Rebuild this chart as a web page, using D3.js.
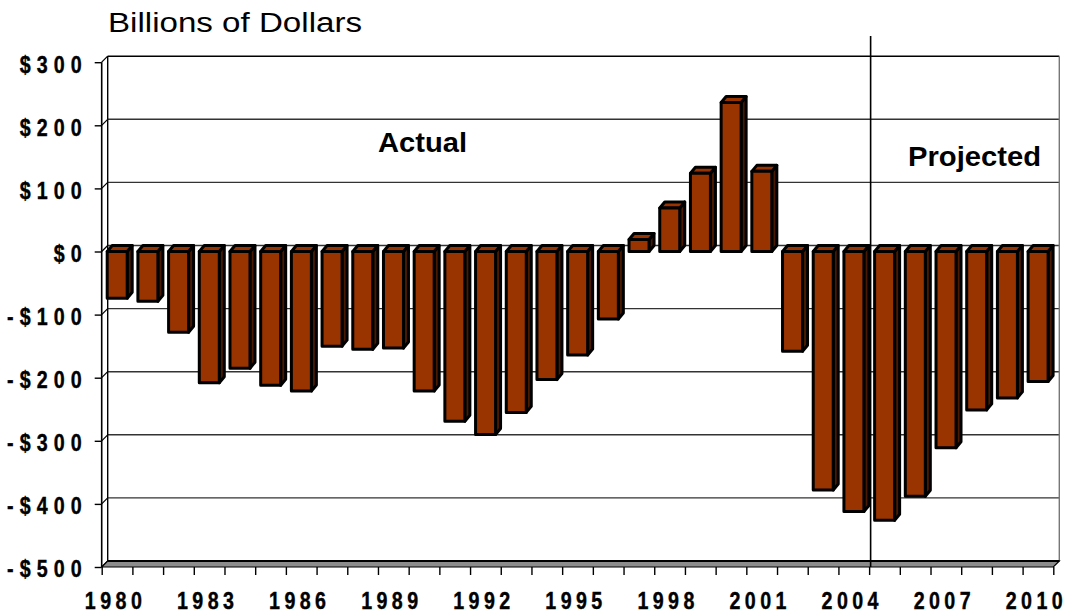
<!DOCTYPE html>
<html>
<head>
<meta charset="utf-8">
<script src="https://cdn.jsdelivr.net/npm/d3@7"></script>
<style>
  body { margin: 0; background: #fff; }
  svg { display: block; }
  .tick-label { font-family: 'Liberation Sans', Arial, sans-serif; font-weight: bold; font-size: 24px; fill: #000; stroke: #000; stroke-width: 0.4px; }
  .note { font-family: 'Liberation Sans', Arial, sans-serif; font-weight: bold; font-size: 28px; }
  .title { font-family: 'Liberation Sans', Arial, sans-serif; font-size: 27px; }
</style>
</head>
<body>
<div id="chart"><svg></svg></div>
<script>
// data (billions of dollars)
const years = [1980, 1981, 1982, 1983, 1984, 1985, 1986, 1987, 1988, 1989,
  1990, 1991, 1992, 1993, 1994, 1995, 1996, 1997, 1998, 1999,
  2000, 2001, 2002, 2003, 2004, 2005, 2006, 2007, 2008, 2009, 2010]
const deficits = [-74, -79, -128, -208, -185, -212, -221, -150, -155, -153,
  -221, -269, -290, -255, -203, -164, -107, 19, 69, 124,
  236, 127, -158, -378, -412, -426, -388, -311, -251, -232, -206]
const yTickValues = [300, 200, 100, 0, -100, -200, -300, -400, -500]
const xLabelYears = [1980, 1983, 1986, 1989, 1992, 1995, 1998, 2001, 2004, 2007, 2010]
const projectedFrom = 2005

const width = 1066
const height = 613
const plot = { left: 101.7, right: 1053.3, top: 62.2, bottom: 567 }
const wall = { dx: 6, dy: -6 }
const bar = { offset: 5.5, width: 20, dx: 5, dy: -6 }
const squeeze = 0.82 // narrow look of the tick font

const svg = d3.select('#chart svg')
  .attr('width', width)
  .attr('height', height)

const x = d3.scaleBand().domain(years).range([plot.left, plot.right])
const xEdge = d3.scaleLinear().domain([years[0], years[years.length - 1] + 1]).range([plot.left, plot.right])
const y = d3.scaleLinear().domain([-500, 300]).range([plot.bottom, plot.top])

/**
 * Formats a value as a dollar label, e.g. -$100.
 */
function dollar (v) {
  return (v < 0 ? '-' : '') + '$' + Math.abs(v)
}

/**
 * Draws the back wall, left wall and floor of the 3D box.
 */
function drawWalls (g) {
  // back wall gridlines
  g.selectAll('.grid')
    .data(yTickValues.filter(v => v > -500))
    .enter()
    .append('line')
    .attr('class', 'grid')
    .attr('x1', plot.left + wall.dx)
    .attr('x2', plot.right + wall.dx)
    .attr('y1', d => y(d) + wall.dy)
    .attr('y2', d => y(d) + wall.dy)
    .attr('stroke', d => d === 300 ? '#000' : '#333')
    .attr('stroke-width', 1.4)

  // left wall slants at each level
  g.selectAll('.slant')
    .data(yTickValues)
    .enter()
    .append('line')
    .attr('x1', plot.left)
    .attr('x2', plot.left + wall.dx)
    .attr('y1', d => y(d))
    .attr('y2', d => y(d) + wall.dy)
    .attr('stroke', '#000')
    .attr('stroke-width', 1.2)

  g.append('line')
    .attr('x1', plot.left + wall.dx).attr('x2', plot.left + wall.dx)
    .attr('y1', y(300) + wall.dy).attr('y2', y(-500) + wall.dy)
    .attr('stroke', '#000').attr('stroke-width', 1.4)

  g.append('line')
    .attr('x1', plot.right + wall.dx).attr('x2', plot.right + wall.dx)
    .attr('y1', y(300) + wall.dy).attr('y2', y(-500) + wall.dy)
    .attr('stroke', '#777').attr('stroke-width', 1.4)

  // floor
  const f = y(-500)
  g.append('polygon')
    .attr('points', [[plot.left, f], [plot.right, f], [plot.right + wall.dx, f + wall.dy], [plot.left + wall.dx, f + wall.dy]].join(' '))
    .attr('fill', '#8c8c8c')
    .attr('stroke', '#000')
    .attr('stroke-width', 1.2)
  g.append('line')
    .attr('x1', plot.left + wall.dx).attr('x2', plot.right + wall.dx)
    .attr('y1', f + wall.dy).attr('y2', f + wall.dy)
    .attr('stroke', '#000').attr('stroke-width', 2)

  // front left axis line
  g.append('line')
    .attr('x1', plot.left).attr('x2', plot.left)
    .attr('y1', y(300)).attr('y2', f)
    .attr('stroke', '#000').attr('stroke-width', 1.6)
}

/**
 * Draws the 3D columns: side face, top face, then front face.
 */
function drawBars (g) {
  const cols = g.selectAll('.col')
    .data(years.map((yr, i) => ({ year: yr, value: deficits[i] })))
    .enter()
    .append('g')
    .attr('class', 'col')

  const geo = d => {
    const fx = x(d.year) + bar.offset
    const top = Math.min(y(0), y(d.value))
    const bottom = Math.max(y(0), y(d.value))
    return { fx, top, bottom, rx: fx + bar.width }
  }

  cols.append('polygon')
    .attr('points', d => {
      const p = geo(d)
      return [[p.rx, p.top], [p.rx + bar.dx, p.top + bar.dy], [p.rx + bar.dx, p.bottom + bar.dy], [p.rx, p.bottom]].join(' ')
    })
    .attr('fill', '#4a1a00')

  cols.append('polygon')
    .attr('points', d => {
      const p = geo(d)
      return [[p.fx, p.top], [p.fx + bar.dx, p.top + bar.dy], [p.rx + bar.dx, p.top + bar.dy], [p.rx, p.top]].join(' ')
    })
    .attr('fill', '#993300')

  cols.append('rect')
    .attr('x', d => geo(d).fx)
    .attr('y', d => geo(d).top)
    .attr('width', bar.width)
    .attr('height', d => geo(d).bottom - geo(d).top)
    .attr('fill', '#993300')

  cols.selectAll('polygon, rect')
    .attr('stroke', '#000')
    .attr('stroke-width', 3)
    .attr('stroke-linejoin', 'round')
}

/**
 * Draws both axes with their tick marks and labels.
 */
function drawAxes (g) {
  const yGap = 6.1 // screen px between glyphs
  const yAxis = g.append('g')
    .attr('transform', 'translate(' + plot.left + ',0)')
    .call(d3.axisLeft(y).tickValues(yTickValues).tickSize(7).tickFormat(dollar))
  yAxis.select('.domain').remove()
  yAxis.selectAll('.tick line').attr('stroke', '#000').attr('stroke-width', 1.4)
  yAxis.selectAll('text')
    .attr('class', 'tick-label')
    .attr('x', 0)
    .attr('dy', 0)
    .attr('y', 0)
    .attr('transform', 'translate(' + (-(plot.left - 81.7) + yGap) + ',9.8) scale(' + squeeze + ',1)')
    .attr('letter-spacing', yGap / squeeze)
    .attr('font-family', null).attr('font-size', null)

  const xTicks = g.append('g')
    .attr('transform', 'translate(0,' + plot.bottom + ')')
    .call(d3.axisBottom(xEdge).tickValues(years.concat([years[years.length - 1] + 1])).tickSize(8).tickFormat(''))
  xTicks.select('.domain').remove()
  xTicks.selectAll('.tick line').attr('stroke', '#000').attr('stroke-width', 1.4)

  const xGap = 4.4
  const xLabels = g.append('g')
    .attr('transform', 'translate(0,' + plot.bottom + ')')
    .call(d3.axisBottom(x).tickValues(xLabelYears).tickSize(0))
  xLabels.select('.domain').remove()
  xLabels.selectAll('text')
    .attr('class', 'tick-label')
    .attr('y', 0)
    .attr('dy', 0)
    .attr('transform', 'translate(-1.5,42) scale(' + squeeze + ',1)')
    .attr('letter-spacing', xGap / squeeze)
    .attr('font-family', null).attr('font-size', null)
}

/**
 * Places the title, the actual/projected notes and the divider line.
 */
function drawLabels (g) {
  g.append('text')
    .attr('class', 'title')
    .attr('x', 108)
    .attr('y', 31.7)
    .attr('textLength', 254)
    .attr('lengthAdjust', 'spacingAndGlyphs')
    .text('Billions of Dollars')

  g.append('text')
    .attr('class', 'note')
    .attr('x', 378)
    .attr('y', 151.7)
    .attr('textLength', 89)
    .attr('lengthAdjust', 'spacingAndGlyphs')
    .text('Actual')

  g.append('text')
    .attr('class', 'note')
    .attr('x', 908)
    .attr('y', 166)
    .attr('textLength', 133)
    .attr('lengthAdjust', 'spacingAndGlyphs')
    .text('Projected')

  g.append('line')
    .attr('x1', xEdge(projectedFrom) + 1.5)
    .attr('x2', xEdge(projectedFrom) + 1.5)
    .attr('y1', 36)
    .attr('y2', plot.bottom)
    .attr('stroke', '#000')
    .attr('stroke-width', 1.6)
}

const root = svg.append('g')
drawWalls(root.append('g'))
drawBars(root.append('g'))
drawAxes(root.append('g'))
drawLabels(root.append('g'))
</script>
</body>
</html>
